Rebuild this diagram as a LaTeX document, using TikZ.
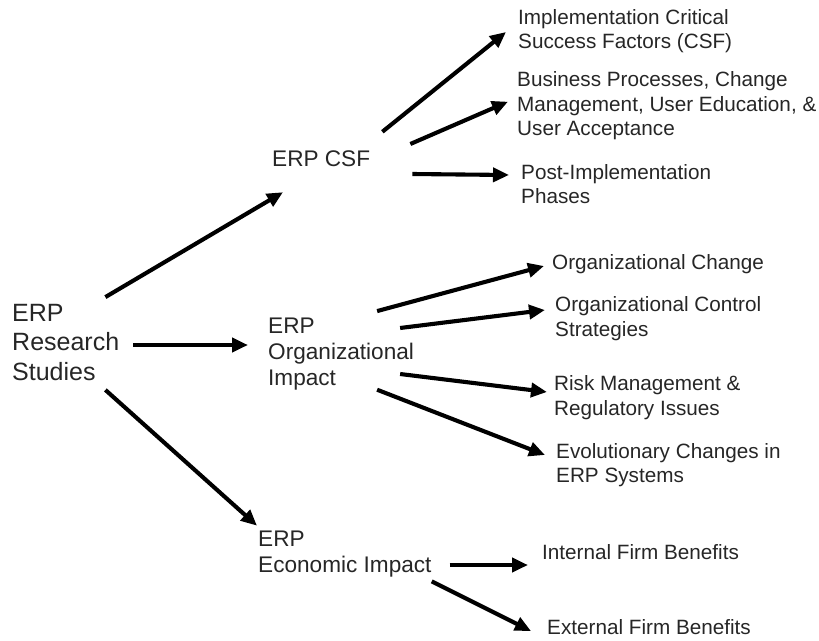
\documentclass[tikz,border=0pt]{standalone}
\usepackage{fontspec}
\setmainfont{Liberation Sans}
\usetikzlibrary{arrows.meta,calc}
\begin{document}
\begin{tikzpicture}[x=1pt,y=-1pt,
  lbl/.style={inner sep=0pt, anchor=west, align=left, text=black!85},
  big/.style={lbl, font=\fontsize{25}{29.5}\selectfont},
  mid/.style={lbl, font=\fontsize{22.6}{26}\selectfont},
  sml/.style={lbl, font=\fontsize{20.7}{24.3}\selectfont},
  arr/.style={line width=4.1pt, -{Triangle[length=16pt,width=14pt]}}]
\useasboundingbox (0,0) rectangle (819,640);

\node[big] (rs) at (12,342.5) {ERP\\Research\\Studies};
\node[mid] (csf) at (272,159) {ERP CSF};
\node[mid] (org) at (268,354.4) {ERP\\Organizational\\Impact};
\node[mid] (eco) at (258,554) {ERP\\Economic Impact};

\node[sml] (r1) at (518,31) {Implementation Critical\\Success Factors (CSF)};
\node[sml] (r2) at (517,105.7) {Business Processes, Change\\Management, User Education, \&\\User Acceptance};
\node[sml] (r3) at (521,184) {Post-Implementation\\Phases};
\node[sml] (r4) at (552,264.5) {Organizational Change};
\node[sml] (r5) at (555,318.5) {Organizational Control\\Strategies};
\node[sml] (r6) at (554,397.7) {Risk Management \&\\Regulatory Issues};
\node[sml] (r7) at (556,465.2) {Evolutionary Changes in\\ERP Systems};
\node[sml] (r8) at (542,552) {Internal Firm Benefits};
\node[sml] (r9) at (547,627) {External Firm Benefits};

\draw[arr] ($(rs.north east)+(-14,-7)$) -- ($(csf.south west)+(11,25)$);
\draw[arr] ($(rs.east)+(14,2.5)$) -- ($(org.west)+(-20,-9.4)$);
\draw[arr] ($(rs.south east)+(-14,9)$) -- ($(eco.north west)+(-1,-5)$);

\draw[arr] ($(csf.north east)+(12,-19)$) -- ($(r1.west)+(-12,1)$);
\draw[arr] ($(csf.east)+(40,-15)$) -- ($(r2.west)+(-9,-4)$);
\draw[arr] ($(csf.east)+(42,15)$) -- ($(r3.west)+(-12,-9)$);

\draw[arr] ($(org.north east)+(-37,-7)$) -- ($(r4.west)+(-8,1.5)$);
\draw[arr] ($(org.east)+(-14,-26.4)$) -- ($(r5.west)+(-10,-8.5)$);
\draw[arr] ($(org.east)+(-14,19.6)$) -- ($(r6.west)+(-7,-5.7)$);
\draw[arr] ($(org.south east)+(-37,-1)$) -- ($(r7.west)+(-11,-10.2)$);

\draw[arr] ($(eco.east)+(18,11)$) -- ($(r8.west)+(-14,13)$);
\draw[arr] ($(eco.south east)+(0,4)$) -- ($(r9.west)+(-16,4)$);
\end{tikzpicture}
\end{document}
